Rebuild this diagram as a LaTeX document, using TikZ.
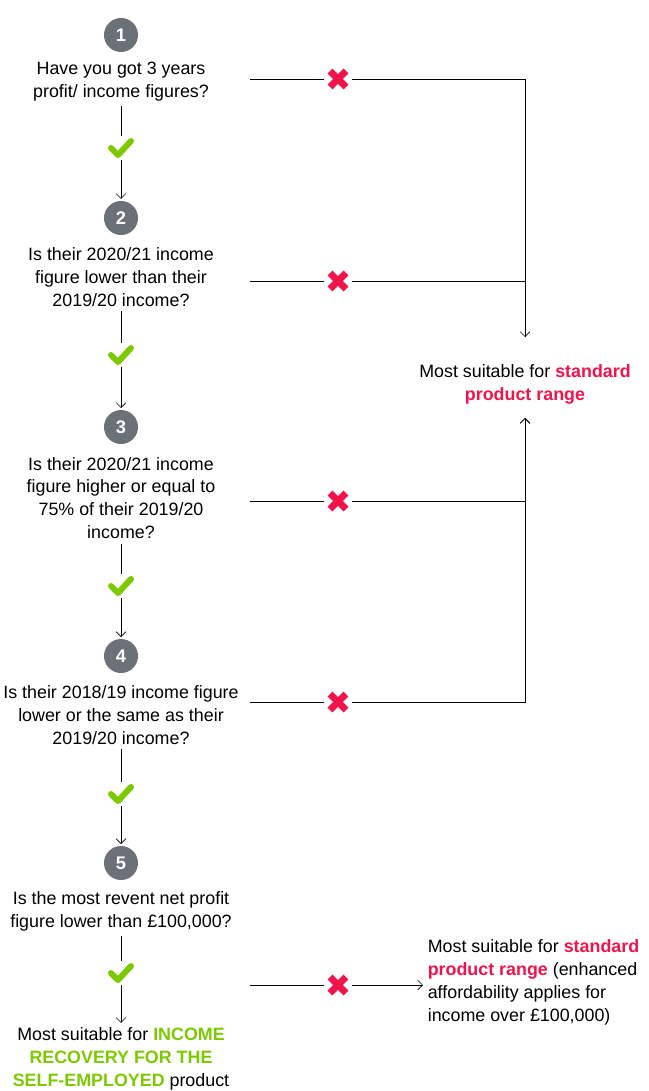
\documentclass[tikz,border=0pt]{standalone}
\usepackage{fontspec}
\setmainfont{Liberation Sans}
\usetikzlibrary{positioning, calc, arrows.meta}
\definecolor{grey}{HTML}{6B7079}
\definecolor{red}{HTML}{F0144B}
\definecolor{green}{HTML}{7DC900}

\tikzset{
  num/.style={circle, fill=grey, minimum size=0.85cm, inner sep=0pt, outer sep=0.05cm, text=white, font=\fontsize{13}{13}\bfseries\selectfont},
  quest/.style={align=center, inner sep=0pt, outer sep=0.12cm, font=\fontsize{12.7}{16.3}\selectfont},
  tick/.style={minimum width=0.6cm, minimum height=0.58cm, inner sep=0pt},
  cross/.style={minimum width=0.68cm, minimum height=0.6cm, inner sep=0pt},
}

\begin{document}
\begin{tikzpicture}[x=0.025cm, y=-0.025cm, >={Straight Barb[length=3.5pt, width=7pt]}]
\useasboundingbox (0,0) rectangle (649,1091);
% nodes
\node[num] (n1) at (121, 35) {1};
\node[quest] (q1) at (121, 82) {Have you got 3 years\\profit/ income figures?};
\node[tick] (t1) at (121, 148) {};
\node[num] (n2) at (121, 218) {2};
\node[quest] (q2) at (121, 277) {Is their 2020/21 income\\figure lower than their\\2019/20 income?};
\node[tick] (t2) at (121, 355) {};
\node[num] (n3) at (121, 427) {3};
\node[quest] (q3) at (121, 498) {Is their 2020/21 income\\figure higher or equal to\\75\% of their 2019/20\\income?};
\node[tick] (t3) at (121, 586) {};
\node[num] (n4) at (121, 656) {4};
\node[quest] (q4) at (121, 715) {Is their 2018/19 income figure\\lower or the same as their\\2019/20 income?};
\node[tick] (t4) at (121, 794) {};
\node[num] (n5) at (121, 863) {5};
\node[quest] (q5) at (121, 911) {Is the most revent net profit\\figure lower than £100,000?};
\node[tick] (t5) at (121, 973) {};
\node[quest] (irs) at (121, 1059) {Most suitable for \textcolor{green}{\textbf{INCOME}}\\\textcolor{green}{\textbf{RECOVERY FOR THE}}\\\textcolor{green}{\textbf{SELF-EMPLOYED}} product};
% no branch
\node[cross] (x1) at (338, 79) {};
\node[cross] (x2) at (338, 281) {};
\node[cross] (x3) at (338, 501) {};
\node[cross] (x4) at (338, 702) {};
\node[cross] (x5) at (338, 985) {};
\coordinate (s1) at (250, 79);
\coordinate (s2) at (250, 281);
\coordinate (s3) at (250, 501);
\coordinate (s4) at (250, 702);
\coordinate (s5) at (250, 985);
\coordinate (top) at (525, 337);
\coordinate (bot) at (525, 418);
\node[quest] (std) at (525, 384) {Most suitable for \textcolor{red}{\textbf{standard}}\\\textcolor{red}{\textbf{product range}}};
\node[quest, align=left, anchor=west] (std2) at (423, 982) {Most suitable for \textcolor{red}{\textbf{standard}}\\\textcolor{red}{\textbf{product range}} (enhanced\\affordability applies for\\income over £100,000)};
% marks
\foreach \i in {1,...,5} {
  \draw[green, line width=0.15cm, line cap=round, line join=round] ($(t\i)+(-10,0)$) -- ($(t\i)+(-3,7)$) -- ($(t\i)+(10,-7)$);
  \draw[red, line width=0.175cm] ($(x\i)+(-8,-8)$) -- ($(x\i)+(8,8)$) ($(x\i)+(-8,8)$) -- ($(x\i)+(8,-8)$);
}
% arrows
\draw (q1) -- (t1);
\draw[->] (t1) -- (n2);
\draw (q2) -- (t2);
\draw[->] (t2) -- (n3);
\draw (q3) -- (t3);
\draw[->] (t3) -- (n4);
\draw (q4) -- (t4);
\draw[->] (t4) -- (n5);
\draw (q5) -- (t5);
\draw[->] (t5) -- (irs);
\draw (s1) -- (x1);
\draw[->] (x1) -| (top);
\draw (s2) -- (x2);
\draw (x2) -| (top);
\draw (s3) -- (x3);
\draw[->] (x3) -| (bot);
\draw (s4) -- (x4);
\draw[->] (x4) -| (bot);
\draw (s5) -- (x5);
\draw[->] (x5) -- (std2.west |- x5);
\end{tikzpicture}
\end{document}
